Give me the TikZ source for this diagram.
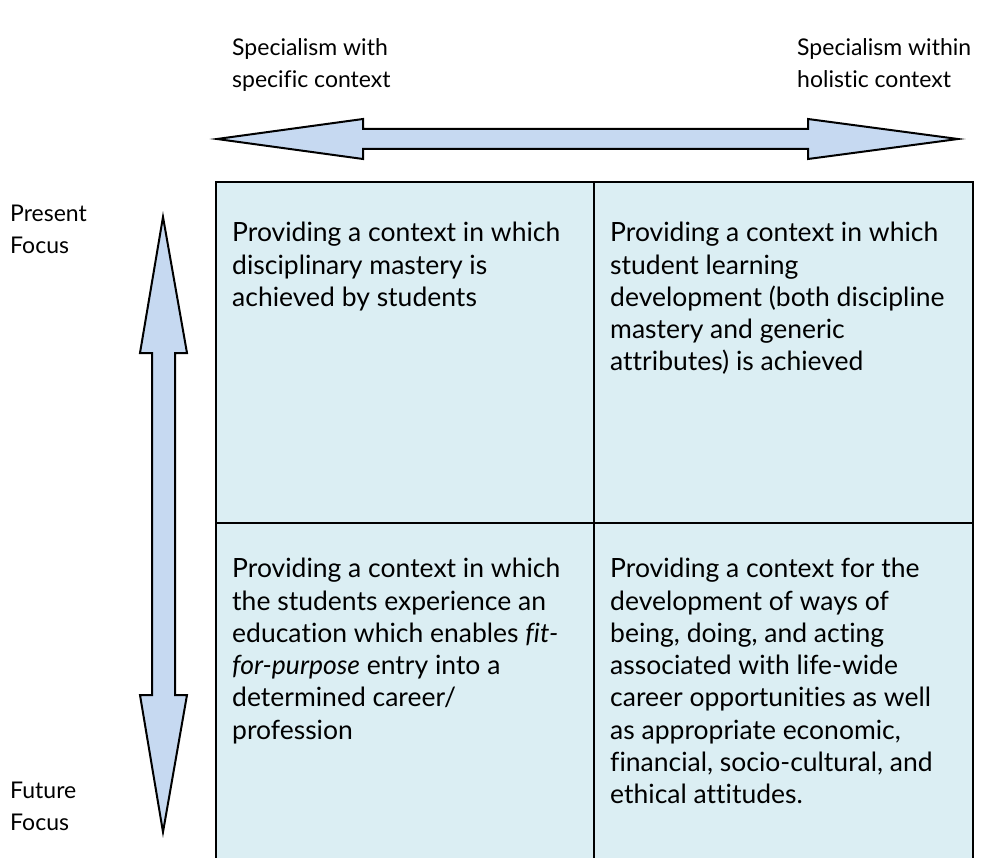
\documentclass[tikz,border=0pt]{standalone}
\usepackage{fontspec}
\setmainfont[Ligatures=NoCommon]{Lato}
\usepackage{tikz}
\definecolor{arrowblue}{RGB}{198, 217, 241}
\definecolor{cellblue}{RGB}{219, 238, 243}
\tikzset{
    celltext/.style={anchor=north west, align=left, inner sep=0pt, font=\fontsize{26.5}{32.3}\selectfont},
    axislabel/.style={anchor=north west, align=left, inner sep=0pt, font=\fontsize{23}{32}\selectfont},
    blockarrow/.style={draw=black, fill=arrowblue, line width=2pt, line join=miter}
}
\begin{document}
\begin{tikzpicture}[x=1pt, y=-1pt]
            \useasboundingbox                                                 (0, 0) rectangle (984, 858);
            % quadrants
            \fill[cellblue]                                                   (216, 182) rectangle (973, 870);
            \draw[line width=2pt]                                             (216, 182) rectangle (973, 870);
            \draw[line width=2pt]                                             (594, 182) -- (594, 870);
            \draw[line width=2pt]                                             (216, 523) -- (973, 523);
            % axes
            \filldraw[blockarrow] (217, 139) -- (363, 119) -- (363, 129) -- (808, 129) -- (808, 119) -- (958, 139)
                                  -- (808, 159) -- (808, 149) -- (363, 149) -- (363, 159) -- cycle;
            \filldraw[blockarrow] (163, 217) -- (187, 353) -- (175, 353) -- (175, 695) -- (187, 695) -- (163, 832)
                                  -- (140, 695) -- (152, 695) -- (152, 353) -- (140, 353) -- cycle;
            % axis labels
            \node[axislabel] (specific) at (232, 38)  {Specialism with\\specific context};
            \node[axislabel] (holistic) at (797, 38)  {Specialism within\\holistic context};
            \node[axislabel] (present)  at (10, 205)  {Present\\Focus};
            \node[axislabel] (future)   at (10, 782)  {Future\\Focus};
            % quadrant texts
            \node[celltext] (mastery)  at (232, 222) {Providing a context in which\\disciplinary mastery is\\achieved by students};
            \node[celltext] (learning) at (610, 222) {Providing a context in which\\student learning\\development (both discipline\\mastery and generic\\attributes) is achieved};
            \node[celltext] (career)   at (232, 558) {Providing a context in which\\the students experience an\\education which enables \textit{fit-}\\\textit{for-purpose} entry into a\\determined career/\\profession};
            \node[celltext] (lifewide) at (610, 558) {Providing a context for the\\development of ways of\\being, doing, and acting\\associated with life-wide\\career opportunities as well\\as appropriate economic,\\financial, socio-cultural, and\\ethical attitudes.};
        \end{tikzpicture}
\end{document}
